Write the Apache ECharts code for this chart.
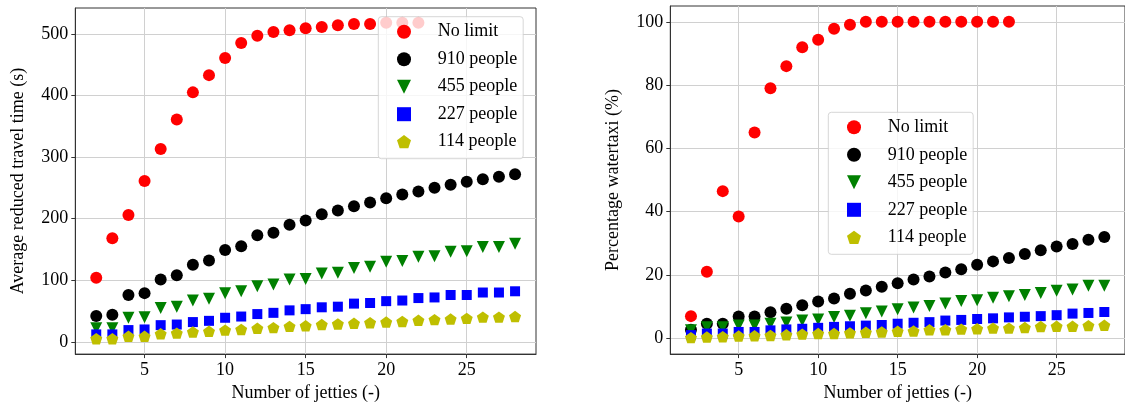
<!DOCTYPE html>
<html>
<head>
<meta charset="utf-8">
<script src="https://cdn.jsdelivr.net/npm/echarts@6/dist/echarts.min.js"></script>
<style>
html,body{margin:0;padding:0;background:#fff;}
#chart{width:1125px;height:407px;}
</style>
</head>
<body>
<div id="chart"></div>
<script>
// ---- data ----
const jetties = [2,3,4,5,6,7,8,9,10,11,12,13,14,15,16,17,18,19,20,21,22,23,24,25,26,27,28];
const seriesNames = ['No limit','910 people','455 people','227 people','114 people'];

// Left: Average reduced travel time (s)
const noLimitTime = [104,168,206,261,313,361,405,433,461,485,497,503,506,509,511,514,516,516,518,518,518];
const p910Time = [42,44,76,79,101,108,125,132,149,155,173,177,190,197,207,213,220,226,233,239,244,250,255,260,264,268,272];
const p455Time = [22,22,39,40,55,57,67,70,79,82,90,93,101,102,111,112,120,122,130,131,138,139,146,147,154,154,159];
const p227Time = [12,12,19,20,27,28,32,34,39,41,45,47,51,53,56,57,62,63,66,67,71,72,76,76,80,80,82];
const p114Time = [5,5,9,9,13,14,16,17,19,20,22,23,25,26,28,29,30,31,32,33,35,36,37,38,40,40,41];

// Right: Percentage watertaxi (%)
const noLimitPct = [7,21,46.5,38.5,65,79,86,92,94.3,97.8,99.1,100,100,100,100,100,100,100,100,100,100];
const p910Pct = [2.7,4.6,4.6,6.9,6.9,8.2,9.3,10.4,11.6,12.6,14.1,15.1,16.3,17.4,18.6,19.5,20.8,21.8,23.2,24.3,25.4,26.6,27.8,29.0,29.8,31.1,32.0];
const p455Pct = [2.5,3.5,3.5,4.0,4.0,4.6,5.0,5.6,5.9,6.7,7.1,7.9,8.5,9.2,9.7,10.2,11.0,11.8,12.0,12.8,13.3,13.7,14.3,15.0,15.4,16.6,16.6];
const p227Pct = [1.0,1.5,1.5,2.0,2.0,2.5,2.8,3.0,3.3,3.6,3.8,4.0,4.2,4.6,4.9,5.1,5.6,5.8,6.1,6.3,6.6,6.8,7.0,7.3,7.8,8.0,8.3];
const p114Pct = [0.2,0.4,0.5,0.7,0.8,0.9,1.1,1.3,1.5,1.5,1.7,1.9,2.0,2.2,2.3,2.7,2.7,2.9,3.0,3.2,3.2,3.4,3.7,3.8,3.8,4.0,4.1];

const xTicks = [5,10,15,20,25];
const yTicksLeft = [0,100,200,300,400,500];
const yTicksRight = [0,20,40,60,80,100];

// ---- styles ----
const FONT = '"Liberation Serif", "Times New Roman", serif';
const pentagon = 'path://M0,-1 L0.951,-0.309 L0.588,0.809 L-0.588,0.809 L-0.951,-0.309 Z';
const triDown = 'path://M-1,-1 L1,-1 L0,1 Z';
const styles = [
  {color:'#ff0000', symbol:'circle', size:12, legendIcon:'circle'},
  {color:'#000000', symbol:'circle', size:12, legendIcon:'circle'},
  {color:'#008000', symbol:triDown, size:12, legendIcon:triDown},
  {color:'#0000ff', symbol:'rect', size:10, legendIcon:'rect'},
  {color:'#bfbf00', symbol:pentagon, size:12, legendIcon:pentagon}
];

function pairs(vals){ return vals.map((v,i)=>[jetties[i], v]); }

function makeSeries(valsList, idx){
  return valsList.map((vals,k)=>({
    type:'scatter', name:seriesNames[k], xAxisIndex:idx, yAxisIndex:idx,
    data:pairs(vals),
    symbol:styles[k].symbol, symbolSize:styles[k].size,
    symbolKeepAspect:true,
    itemStyle:{color:styles[k].color, opacity:1},
    emphasis:{disabled:true},
    animation:false
  }));
}

function xAxis(gridIndex){
  return {
    type:'value', gridIndex, min:0.7, max:29.3,
    name:'Number of jetties (-)', nameLocation:'middle', nameGap:27,
    nameTextStyle:{fontFamily:FONT, fontSize:18, color:'#000'},
    axisLine:{show:true, onZero:false, lineStyle:{color:'#333', width:1}},
    axisTick:{show:true, length:4, lineStyle:{color:'#333'}, customValues:xTicks},
    axisLabel:{fontFamily:FONT, fontSize:18, color:'#000', margin:7, customValues:xTicks},
    splitLine:{show:true, lineStyle:{color:'#d0d0d0', width:1}}
  };
}
function yAxis(gridIndex, min, max, ticks, name){
  return {
    type:'value', gridIndex, min, max,
    name, nameLocation:'middle', nameGap:48, nameRotate:90,
    nameTextStyle:{fontFamily:FONT, fontSize:18, color:'#000'},
    axisLine:{show:true, onZero:false, lineStyle:{color:'#333', width:1}},
    axisTick:{show:true, length:4, lineStyle:{color:'#333'}, customValues:ticks},
    axisLabel:{fontFamily:FONT, fontSize:18, color:'#000', margin:7, customValues:ticks},
    splitLine:{show:true, lineStyle:{color:'#d0d0d0', width:1}}
  };
}
function legend(left, top){
  return {
    left, top, orient:'vertical',
    data:seriesNames.map((n,k)=>({name:n, icon:styles[k].legendIcon})),
    itemWidth:14, itemHeight:14, itemGap:9.5,
    padding:[6,6,8,18.7],
    backgroundColor:'rgba(255,255,255,0.8)',
    borderColor:'rgba(204,204,204,0.8)', borderWidth:1, borderRadius:3,
    selectedMode:false,
    textStyle:{fontFamily:FONT, fontSize:18, color:'#000', padding:[0,0,0,21.7]}
  };
}

const chart = echarts.init(document.getElementById('chart'), null, {renderer:'canvas'});
chart.setOption({
  animation:false,
  backgroundColor:'#fff',
  grid:[
    {left:75.3, top:8, right:589, bottom:49, show:true, borderColor:'#333', borderWidth:1, backgroundColor:'transparent'},
    {left:670.3, top:6, right:-9.5, bottom:47, show:true, borderColor:'#333', borderWidth:1, backgroundColor:'transparent'}
  ],
  xAxis:[xAxis(0), xAxis(1)],
  yAxis:[
    yAxis(0, -20, 542, yTicksLeft, 'Average reduced travel time (s)'),
    yAxis(1, -5, 105, yTicksRight, 'Percentage watertaxi (%)')
  ],
  legend:[legend(378.3, 16.7), legend(828.3, 112.3)],
  series:[].concat(
    makeSeries([noLimitTime,p910Time,p455Time,p227Time,p114Time], 0),
    makeSeries([noLimitPct,p910Pct,p455Pct,p227Pct,p114Pct], 1)
  )
});
</script>
</body>
</html>
